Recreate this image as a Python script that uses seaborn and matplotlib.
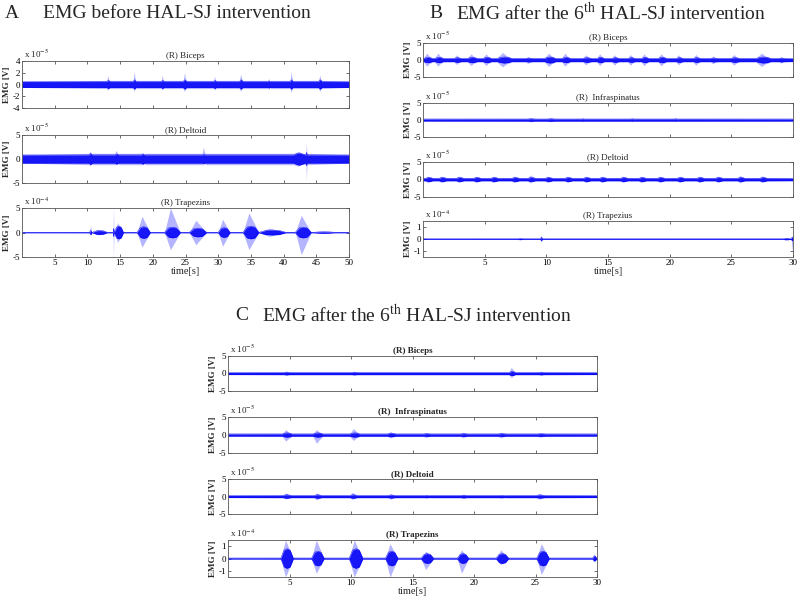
import numpy as np
import pandas as pd
import matplotlib
matplotlib.use("Agg")
import matplotlib.pyplot as plt
import seaborn as sns

# ---- data (envelope of each EMG trace) ----
# each burst: (centre time [s], width [s], core amplitude, upper peak, lower peak)
# amplitudes are in the unit shown by the "x 10^n" label of that axes

A_BIC_BASE = 0.5
A_BIC = [(13.2, 0.5, 0.7, 1.5, 1.0), (17.2, 0.4, 0.8, 2.2, 1.2), (21.5, 0.4, 0.7, 1.6, 1.0),
         (24.9, 0.5, 0.8, 2.0, 1.2), (29.5, 0.4, 0.7, 1.4, 1.0), (33.5, 0.5, 0.8, 1.8, 1.2),
         (37.8, 0.5, 0.6, 1.0, 0.8), (41.2, 0.4, 0.8, 2.2, 1.4), (45.6, 0.5, 0.8, 1.6, 1.2)]

A_DEL_BASE = 0.85
A_DEL = [(10.5, 0.5, 1.2, 1.6, 1.4), (14.5, 0.6, 1.1, 1.8, 1.2), (18.5, 0.6, 1.1, 1.3, 1.2),
         (27.8, 0.5, 1.0, 2.5, 1.2), (42.4, 1.8, 1.3, 1.5, 1.5), (43.5, 0.15, 1.4, 3.5, 4.6)]

A_TRAP_BASE = 0.06
A_TRAP = [(10.5, 0.3, 0.4, 1.5, 0.6), (11.9, 2.2, 0.4, 0.6, 0.5), (14.0, 0.12, 0.8, 5.0, 5.0),
          (14.8, 1.4, 1.3, 2.0, 2.0), (18.6, 2.0, 1.2, 3.3, 3.0), (23.0, 2.4, 1.1, 5.0, 3.5),
          (26.9, 2.6, 0.9, 2.5, 2.5), (30.9, 1.8, 1.0, 2.7, 2.8), (35.0, 2.4, 1.3, 4.0, 3.5),
          (38.3, 4.0, 0.5, 0.9, 0.8), (43.0, 2.4, 1.1, 3.5, 4.5), (46.2, 3.0, 0.15, 0.2, 0.2)]

B_BIC_BASE = 0.45
B_BIC = [(0.4, 0.7, 0.8, 2.0, 1.8), (1.3, 0.7, 0.8, 2.0, 1.8), (2.8, 0.6, 0.7, 1.5, 1.3),
         (4.0, 0.8, 0.8, 1.8, 1.6), (5.2, 0.7, 0.8, 1.8, 1.6), (6.6, 1.2, 0.9, 2.2, 2.0),
         (8.6, 0.6, 0.6, 1.0, 1.0), (10.3, 0.9, 0.9, 2.0, 1.9), (11.6, 0.7, 0.8, 2.0, 1.8),
         (13.3, 0.7, 0.7, 1.5, 1.4), (14.4, 0.6, 0.8, 1.8, 1.6), (15.6, 0.6, 0.7, 1.5, 1.5),
         (16.9, 0.6, 0.7, 1.6, 1.5), (18.0, 0.6, 0.8, 1.8, 1.7), (19.4, 0.7, 0.8, 1.8, 1.7),
         (20.8, 0.6, 0.7, 1.5, 1.4), (22.2, 0.6, 0.7, 1.6, 1.5), (23.6, 0.6, 0.6, 1.2, 1.1),
         (25.3, 0.7, 0.7, 1.6, 1.5), (27.6, 1.2, 0.9, 2.0, 1.9), (29.1, 0.5, 0.6, 1.0, 0.9)]

B_INF_BASE = 0.3
B_INF = [(8.8, 0.6, 0.4, 0.6, 0.5), (10.4, 0.6, 0.4, 0.6, 0.5), (13.0, 0.6, 0.35, 0.5, 0.4),
         (17.0, 0.6, 0.35, 0.5, 0.4), (20.5, 0.6, 0.35, 0.5, 0.4)]

B_DEL_BASE = 0.35
B_DEL = [(0.5, 0.6, 0.6, 1.0, 0.9), (1.6, 0.6, 0.6, 1.0, 0.9), (3.0, 0.6, 0.6, 1.0, 0.9),
         (4.4, 0.6, 0.6, 1.0, 0.9), (5.8, 0.6, 0.6, 1.0, 0.9), (7.5, 0.6, 0.6, 1.0, 0.9),
         (8.8, 0.6, 0.6, 1.3, 1.0), (10.2, 0.6, 0.6, 1.0, 0.9), (11.8, 0.6, 0.6, 1.0, 0.9),
         (13.3, 0.6, 0.6, 1.0, 0.9), (14.6, 0.6, 0.6, 1.0, 0.9), (16.3, 0.6, 0.6, 1.0, 0.9),
         (17.8, 0.6, 0.6, 1.0, 0.9), (19.3, 0.6, 0.6, 1.0, 0.9), (20.9, 0.6, 0.6, 1.0, 0.9),
         (22.5, 0.6, 0.6, 1.0, 0.9), (24.0, 0.6, 0.6, 1.0, 0.9), (25.8, 0.6, 0.6, 1.2, 1.0),
         (27.6, 0.6, 0.6, 1.1, 0.9)]

B_TRAP_BASE = 0.03
B_TRAP = [(7.9, 0.4, 0.05, 0.1, 0.08), (9.6, 0.12, 0.15, 0.35, 0.3),
          (29.5, 0.6, 0.06, 0.12, 0.1), (29.93, 0.12, 0.15, 0.3, 1.0)]

C_BIC_BASE = 0.3
C_BIC = [(4.8, 0.5, 0.4, 0.7, 0.6), (10.3, 0.5, 0.4, 0.6, 0.5), (23.1, 0.5, 0.6, 1.8, 1.2),
         (25.5, 0.5, 0.4, 0.6, 0.5)]

C_INF_BASE = 0.3
C_INF = [(4.8, 0.8, 0.6, 1.5, 1.7), (7.3, 0.8, 0.6, 1.5, 2.3), (10.3, 0.8, 0.6, 1.8, 1.5),
         (13.3, 0.7, 0.5, 1.0, 0.8), (16.2, 0.6, 0.4, 0.7, 0.7), (19.2, 0.6, 0.4, 0.8, 0.8),
         (22.3, 0.7, 0.4, 0.8, 0.8), (25.5, 0.7, 0.4, 0.6, 0.6)]

C_DEL_BASE = 0.3
C_DEL = [(4.8, 0.7, 0.5, 1.0, 0.7), (7.3, 0.6, 0.5, 1.0, 1.0), (10.2, 0.6, 0.5, 1.2, 0.8),
         (13.3, 0.6, 0.45, 0.8, 0.8), (16.2, 0.6, 0.35, 0.5, 0.5), (19.2, 0.6, 0.4, 0.6, 0.6),
         (22.3, 0.8, 0.35, 0.5, 0.5), (25.4, 0.7, 0.45, 0.9, 0.8)]

C_TRAP_BASE = 0.04
C_TRAP = [(4.8, 1.0, 0.8, 1.5, 1.5), (7.3, 1.0, 0.6, 1.5, 1.2), (10.4, 1.1, 0.8, 1.5, 1.5),
          (13.3, 1.0, 0.6, 1.2, 1.5), (16.2, 1.0, 0.4, 0.6, 0.9), (19.1, 0.9, 0.4, 0.7, 1.2),
          (22.3, 1.0, 0.4, 0.7, 0.5), (25.6, 1.0, 0.6, 1.2, 1.3), (29.8, 0.3, 0.2, 0.4, 0.3)]

# panel title, duration, traces: (name, bursts, base, ylim, yticks, exponent)
PANEL_A = ("A", "EMG before HAL-SJ intervention", 50, [
    ("(R) Biceps", A_BIC, A_BIC_BASE, 4, [-4, -2, 0, 2, 4], -5),
    ("(R) Deltoid", A_DEL, A_DEL_BASE, 5, [-5, 0, 5], -5),
    ("(R) Trapezins", A_TRAP, A_TRAP_BASE, 5, [-5, 0, 5], -4)])
PANEL_B = ("B", r"EMG after the 6$^{\rm th}$ HAL-SJ intervention", 30, [
    ("(R) Biceps", B_BIC, B_BIC_BASE, 5, [-5, 0, 5], -5),
    ("(R)  Infraspinatus", B_INF, B_INF_BASE, 5, [-5, 0, 5], -5),
    ("(R) Deltoid", B_DEL, B_DEL_BASE, 5, [-5, 0, 5], -5),
    ("(R) Trapezius", B_TRAP, B_TRAP_BASE, 1.5, [-1, 0, 1], -4)])
PANEL_C = ("C", r"EMG after the 6$^{\rm th}$ HAL-SJ intervention", 30, [
    ("(R) Biceps", C_BIC, C_BIC_BASE, 5, [-5, 0, 5], -5),
    ("(R)  Infraspinatus", C_INF, C_INF_BASE, 5, [-5, 0, 5], -5),
    ("(R) Deltoid", C_DEL, C_DEL_BASE, 5, [-5, 0, 5], -5),
    ("(R) Trapezins", C_TRAP, C_TRAP_BASE, 1.5, [-1, 0, 1], -4)])

# ---- layout in pixels (left, right, [(top, bottom), ...]) ----
W, H = 800, 598
LAYOUT = {
    "A": (22, 349, [(61, 108), (135, 183), (208, 257)]),
    "B": (423, 793, [(43, 77), (103, 137), (162, 197), (221, 257)]),
    "C": (228, 597, [(356, 391), (417, 453), (479, 514), (540, 577)]),
}
TITLE_POS = {"A": (5, 43, 13), "B": (429, 456, 13), "C": (235, 262, 315)}

CORE = "#0000f5"
FRINGE = "#6a6aff"

sns.set_theme(style="ticks")
plt.rcParams["font.family"] = ["Liberation Serif", "DejaVu Serif"]
plt.rcParams["mathtext.fontset"] = "stix"
plt.rcParams["axes.unicode_minus"] = False


def envelope(bursts, base, T, which):
    # knots of the envelope: baseline, then each burst as a spindle
    t = [0.0]
    v = [base]
    for (c, w, core, up, dn) in sorted(bursts):
        if which == "core":
            t += [c - w / 2, c - w / 4, c, c + w / 4, c + w / 2]
            v += [base, core * 0.85, core, core * 0.85, base]
        else:
            peak = up if which == "up" else dn
            t += [c - w / 2, c - w / 8, c + w / 8, c + w / 2]
            v += [base * 1.4, peak, peak * 0.6, base * 1.4]
    t.append(T)
    v.append(base)
    return np.array(t), np.array(v)


fig = plt.figure(figsize=(W / 100, H / 100), dpi=100)

for letter, title, T, traces in (PANEL_A, PANEL_B, PANEL_C):
    left, right, rows = LAYOUT[letter]
    for i, (name, bursts, base, ylim, yticks, expo) in enumerate(traces):
        top, bottom = rows[i]
        ax = fig.add_axes([left / W, 1 - bottom / H, (right - left) / W, (bottom - top) / H])

        tu, vu = envelope(bursts, base, T, "up")
        td, vd = envelope(bursts, base, T, "dn")
        tc, vc = envelope(bursts, base, T, "core")
        ax.fill_between(tu, 0, vu, color=FRINGE, alpha=0.5, lw=0)
        ax.fill_between(td, 0, -vd, color=FRINGE, alpha=0.5, lw=0)
        ax.fill_between(tc, -vc, vc, color=CORE, alpha=0.88, lw=0)

        df = pd.DataFrame({"t": np.concatenate([tc, tc]),
                           "v": np.concatenate([vc, -vc]),
                           "side": ["up"] * len(tc) + ["dn"] * len(tc)})
        sns.lineplot(data=df, x="t", y="v", units="side", estimator=None,
                     color=CORE, lw=0.3, ax=ax, legend=False)

        ax.set_xlim(0, T)
        ax.set_ylim(-ylim, ylim)
        ax.set_yticks(yticks)
        ax.set_yticklabels([str(y) for y in yticks])
        ax.set_xticks(list(range(5, T + 1, 5)))
        ax.tick_params(direction="in", length=2, width=0.5, labelsize=6.5, pad=1.5,
                       top=True, right=True, colors="#333333", labelcolor="black")
        for s in ax.spines.values():
            s.set_linewidth(0.6)
            s.set_color("#555555")
        ax.set_ylabel("EMG [V]", fontsize=6.5, fontweight="bold", labelpad=1)
        ax.set_title(name, fontsize=6.5, pad=2,
                     fontweight="bold" if letter == "C" else "normal")
        ax.text(0.005, 1.02, "x 10$^{%d}$" % expo, transform=ax.transAxes,
                fontsize=6.5, ha="left", va="bottom")
        if i == len(traces) - 1:
            ax.set_xlabel("time[s]", fontsize=7.5, labelpad=0)
        else:
            ax.set_xlabel("")
            ax.set_xticklabels([])

    lx, tx, ty = TITLE_POS[letter]
    fig.text(lx / W, 1 - ty / H, letter, fontsize=14, va="center", ha="left")
    fig.text(tx / W, 1 - ty / H, title, fontsize=14, va="center", ha="left")

fig.savefig("out.png", dpi=100)
